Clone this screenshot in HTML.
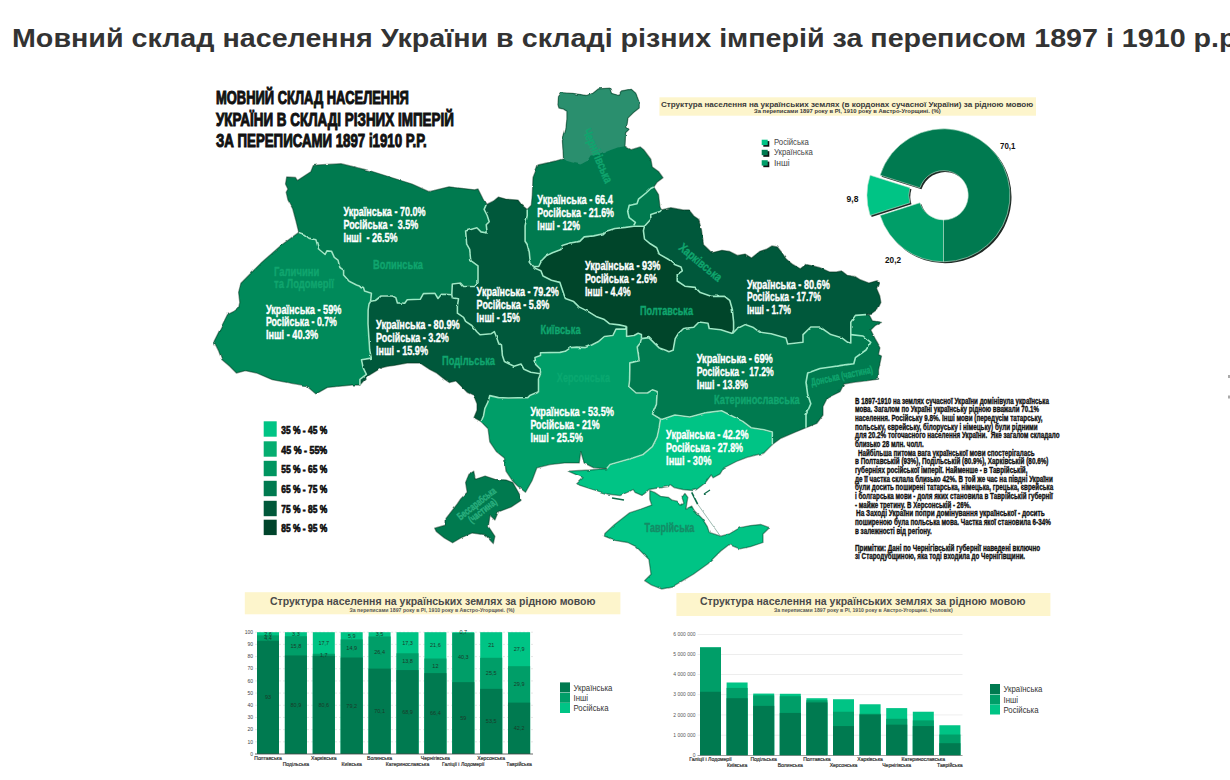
<!DOCTYPE html>
<html><head><meta charset="utf-8"><title>Мовний склад населення України</title>
<style>
html,body{margin:0;padding:0;background:#fff;}
body{width:1230px;height:780px;overflow:hidden;position:relative;font-family:"Liberation Sans",sans-serif;}
h1{position:absolute;left:13.4px;top:0;margin:0;font-size:25.5px;line-height:1;font-weight:700;color:#333;white-space:nowrap;transform-origin:0 0;transform:translate(-1px,25.92px) scale(1.1239,1);}
svg{position:absolute;left:0;top:0;}
svg text{font-family:"Liberation Sans",sans-serif;}
</style></head><body>
<h1>Мовний склад населення України в складі різних імперій за переписом 1897 і 1910 р.р.</h1>
<svg width="1230" height="780" viewBox="0 0 1230 780">
<defs><filter id="rough" x="-2%" y="-2%" width="104%" height="104%"><feTurbulence type="fractalNoise" baseFrequency="0.12" numOctaves="2" seed="3"/><feDisplacementMap in="SourceGraphic" scale="2.2" xChannelSelector="R" yChannelSelector="G"/></filter></defs>
<g id="map" stroke="#9de9c6" stroke-width="1.6" fill="none" stroke-linejoin="round" filter="url(#rough)">
<polygon points="298.8,232.4 303.9,234.2 308.5,237.9 315.9,239.8 318.6,249 325.1,254.5 326.9,250.9 331.6,251.3 334.3,257.3 338,260.1 339.9,267.5 343.6,270.2 343.6,274.9 349.1,281.3 356.5,285 363.5,287.5 364.5,291 371.4,293.2 370.6,301.3 369,304 368.1,310 368,324 369.7,350 371.3,358.1 361.5,359.8 363.2,367.9 366.4,374.4 359.9,379.3 359.9,385 351.8,385 327.4,387.4 316,393.9 306.3,385.8 290.2,383.1 272.3,379.7 256.6,373 245.4,370.7 236.4,373 229.7,366.3 221.8,359.5 218.5,350.6 214,341.6 218.5,332.6 222.9,323.7 227.4,314.7 234.1,311.3 238.6,308 239.8,302.4 238.6,292.3 240.9,283.3 249.8,274.3 261,263.1 281.2,245.2" fill="#008a5a" stroke="none"/>
<polygon points="298.8,232.4 296,221 292.7,208.8 288,200 286.2,192.3 287.9,189 285.5,184 286.7,177 295.4,177.4 297.4,180.5 310.8,171.8 313.3,165.6 318,164.9 341,163.7 370.7,171 412,184 429,191.7 449,186.8 474.6,189.8 478,189 483,199 486.2,204.7 484.1,209.4 487.2,215.5 489.2,221.7 486.2,224.7 487.2,233 481,231.9 476.9,227.8 465.6,230.9 466.7,244.2 469.7,249.4 470.8,260.6 478,265.8 478,282.4 474.9,286.5 463.6,286.5 460.5,283 452.3,284 451.8,294.7 446.2,294.2 441.3,294.4 438,298.5 434.8,293.2 423.4,293.6 420.2,299.3 407.2,299.7 404.7,303.3 397.4,302.9 395.8,297.6 392.5,296 381.1,296 375.4,300.5 370.6,301.3 371.4,293.2 364.5,291 363.5,287.5 356.5,285 349.1,281.3 343.6,274.9 343.6,270.2 339.9,267.5 338,260.1 334.3,257.3 331.6,251.3 326.9,250.9 325.1,254.5 318.6,249 315.9,239.8 308.5,237.9 303.9,234.2" fill="#007a50" stroke="none"/>
<polygon points="370.6,301.3 375.4,300.5 381.1,296 392.5,296 395.8,297.6 397.4,302.9 404.7,303.3 407.2,299.7 420.2,299.3 423.4,293.6 434.8,293.2 438,298.5 441.3,294.4 446.2,294.2 451.8,294.7 452.3,297.8 458.5,298.8 457.4,306 457.4,313.2 463.6,317.3 465.6,321.4 471.8,325.5 476.9,331.7 480,334.7 491.3,333.7 494.4,331.7 496.4,336.8 498.5,343 501.5,344.9 502.4,355.6 504.4,361.5 514,366.3 521,364 524,369.3 530.7,372.2 540.5,373.7 538.5,379 538.5,391.7 529.8,395.6 527.8,397.6 508.3,398 498.5,397.6 489.8,395.6 487.8,402.4 484.9,408.3 483.5,416 482,419.5 481,421.5 474,417.6 477,410.2 477,403.7 473.7,395.5 467.2,392.3 462.4,387.4 455.9,380.9 449.3,382.5 444.5,379.3 436.3,372.8 429.8,369.5 420,363 407.1,363 394.1,365.4 387.6,366.3 381,367.9 368,376 359.9,385 359.9,379.3 366.4,374.4 363.2,367.9 361.5,359.8 371.3,358.1 369.7,350 368,324 368.1,310 369,304" fill="#00583a" stroke="none"/>
<polygon points="486.2,204.7 493.3,201.2 498.5,197 505.6,199.1 518,200.1 522,205.3 527.2,209.4 527.2,215.5 525.1,225.8 525.1,241.2 527.1,244.3 529.2,251.7 530.3,262.3 533.5,266.5 535.6,268.6 540.9,270.7 543,276 551.4,280.3 559.9,282.4 562,288.7 565.3,298.5 573.7,301.6 579,306.9 587.5,311.1 596,316.4 604.4,319.6 609.7,323.8 619.2,324.9 626.6,326.5 625.5,329.1 616,329.1 612.9,335.5 604.4,336.5 598.1,341.8 591.7,345 585.4,347.6 576.9,347.1 570.6,347.6 565.3,351.3 560,352.4 540.5,352.7 540.5,355.6 535,357.6 535.6,364.4 540.5,369.3 540.5,373.7 530.7,372.2 524,369.3 521,364 514,366.3 504.4,361.5 502.4,355.6 501.5,344.9 498.5,343 496.4,336.8 494.4,331.7 491.3,333.7 480,334.7 476.9,331.7 471.8,325.5 465.6,321.4 463.6,317.3 457.4,313.2 457.4,306 458.5,298.8 452.3,297.8 451.8,294.7 452.3,284 460.5,283 463.6,286.5 474.9,286.5 478,282.4 478,265.8 470.8,260.6 469.7,249.4 466.7,244.2 465.6,230.9 476.9,227.8 481,231.9 487.2,233 486.2,224.7 489.2,221.7 487.2,215.5 484.1,209.4" fill="#00583a" stroke="none"/>
<polygon points="527.2,209.4 531.3,205.3 532.3,195 533,177.6 538,165 555.6,161 563.5,158.7 562.4,140.7 565.8,129.4 566.9,119.2 566.9,111.3 563.5,109.1 559,108 557.9,104.6 558.5,96.7 561.3,92.7 572.6,93.3 586.1,95.5 592.9,93.3 598.5,88.8 609.8,88.2 611.5,93.3 618.8,95.5 621.1,91 631.3,89.3 635.8,93.3 639.2,102.3 639.2,108 633.5,112.5 627.9,118.1 626.7,127.1 629,129.4 625.6,132.8 625,146.3 631.3,149.7 640.3,146.9 643.7,149.7 650.8,159.2 652.3,167 658.5,171.5 663,177.7 657,182.3 653.8,187 658.5,194.6 660,207 661.5,210 660,211.5 650.8,214.6 650.8,219.2 644.5,226.3 633.9,226.3 625.4,227.4 614.9,228.5 605.3,231.6 603.2,233.7 593.7,235.9 584.2,236.9 580,241.1 569.4,243.3 562,245.4 561,249.6 552.5,252.8 546.1,255.9 541.9,260.2 538.7,266.5 533.5,266.5 530.3,262.3 529.2,251.7 527.1,244.3 525.1,241.2 525.1,225.8 527.2,215.5" fill="#007a50" stroke="none"/>
<polygon points="533.5,266.5 538.7,266.5 541.9,260.2 546.1,255.9 552.5,252.8 561,249.6 562,245.4 569.4,243.3 580,241.1 584.2,236.9 593.7,235.9 603.2,233.7 605.3,231.6 614.9,228.5 625.4,227.4 633.9,226.3 644.5,226.3 643.4,230.6 644.5,239 650.3,243.8 656.7,247.7 659.2,254.1 668.2,259.2 674.6,264.4 681,266.9 682.3,270.8 677.2,274.6 677.2,281 684.9,286.2 695.1,287.4 700.3,292.6 711.8,296.4 724.6,296.4 729.7,300.3 732.3,309.2 733.6,322 733.6,329.7 732.3,333.6 720.8,329.7 709.2,328.5 708,323.3 699,322 693.8,327.2 683.6,328.5 678.4,333.3 675.2,338.6 673.1,350.3 668.9,351.8 665.7,350.3 659.4,348.1 655.1,343.9 648.8,337.6 641.4,338.6 641.4,334.4 638.2,333.3 634,335.5 626.6,336.5 626.6,326.5 619.2,324.9 609.7,323.8 604.4,319.6 596,316.4 587.5,311.1 579,306.9 573.7,301.6 565.3,298.5 562,288.7 559.9,282.4 551.4,280.3 543,276 540.9,270.7 535.6,268.6" fill="#00442b" stroke="none"/>
<polygon points="661.5,210 670.8,207.7 683,210 689,210 693.8,216 698.5,219.2 701.5,230 703.5,244.8 705.4,246.4 711.8,252.8 722,250.3 729.7,251.5 737.4,255.4 745.1,254.1 751.5,258 760,251.3 766.5,249.2 772,245.9 777.4,247 781.8,252.4 786.1,259 792.7,264.4 800.3,268.8 805.8,264.4 811.2,265.5 819.9,267.7 829.7,272 836.3,272 841.7,271 847.1,275.3 854.8,276.4 860.2,279.7 868.9,283 876.6,280.8 878.7,283 876.6,288.4 879.8,296 880.9,302.5 877.6,309.1 872.3,313 866,314.6 855.4,315.4 850.8,322.3 850.8,343 847.7,342.3 841.5,337.7 830.8,334.6 820,327 810.8,327 803,334.6 803,342.3 787.7,344 786,337.9 771.2,333.7 760,332.3 752.8,327.2 745.1,324.6 737.4,328.5 732.3,333.6 733.6,329.7 733.6,322 732.3,309.2 729.7,300.3 724.6,296.4 711.8,296.4 700.3,292.6 695.1,287.4 684.9,286.2 677.2,281 677.2,274.6 682.3,270.8 681,266.9 674.6,264.4 668.2,259.2 659.2,254.1 656.7,247.7 650.3,243.8 644.5,239 643.4,230.6 644.5,226.3 650.8,219.2 650.8,214.6 660,211.5" fill="#00583a" stroke="none"/>
<polygon points="641.4,338.6 648.8,337.6 655.1,343.9 659.4,348.1 665.7,350.3 668.9,351.8 673.1,350.3 675.2,338.6 678.4,333.3 683.6,328.5 693.8,327.2 699,322 708,323.3 709.2,328.5 720.8,329.7 732.3,333.6 737.4,328.5 745.1,324.6 752.8,327.2 760,332.3 771.2,333.7 786,337.9 787.7,344 803,342.3 803,334.6 810.8,327 820,327 830.8,334.6 841.5,337.7 847.7,342.3 850.8,343 850.8,322.3 855.4,315.4 866,314.6 869,314.6 872.3,320.8 881.5,322.3 875.4,325.4 870.8,330 875.4,339.2 880,347 878.5,354.6 881.5,356 878.5,370 878.5,379.2 866,380.8 853.8,382.3 844,384 840,391.7 827.3,398 823,406.5 823,415 816.7,423.5 806,427.7 795.6,432 780.8,438.3 772.3,444.6 772.3,432 763.9,429.8 751,427.7 742.7,421.4 730,415 721.5,410.8 704.6,412.9 689.8,417 675,415 662.3,419.2 660.5,419 652.4,414.1 656.4,404.4 657.2,391.4 652.4,389.8 647.5,393 636.1,393 628.8,386.5 629.6,380 629.8,370 629.8,362.9 639.3,360.8 637.2,347.1 640.3,342.9" fill="#007a50" stroke="none"/>
<polygon points="540.5,373.7 540.5,369.3 535.6,364.4 535,357.6 540.5,355.6 540.5,352.7 560,352.4 565.3,351.3 570.6,347.6 576.9,347.1 585.4,347.6 591.7,345 598.1,341.8 604.4,336.5 612.9,335.5 616,329.1 625.5,329.1 626.6,326.5 626.6,336.5 634,335.5 638.2,333.3 641.4,334.4 641.4,338.6 640.3,342.9 637.2,347.1 639.3,360.8 629.8,362.9 629.8,370 629.6,380 628.8,386.5 636.1,393 647.5,393 652.4,389.8 657.2,391.4 656.4,404.4 652.4,414.1 660.5,419 658.9,428.8 657.2,436.9 652.4,446.7 642.6,454.8 632.8,458 621.5,461.3 610.1,464.6 606.8,468.6 593.8,467.8 584.1,462.9 580.8,451.5 579.2,462.9 564.6,462.9 549.9,464.6 536.9,467.8 532,480.8 525.5,492.2 517.4,485.7 512.5,480.8 506,471.1 504.4,458 496.3,451.5 489.8,441.8 488.1,428.8 483.3,423.9 481,421.5 482,419.5 483.5,416 484.9,408.3 487.8,402.4 489.8,395.6 498.5,397.6 508.3,398 527.8,397.6 529.8,395.6 538.5,391.7 538.5,379" fill="#009e68" stroke="none"/>
<polygon points="660.5,419 662.3,419.2 675,415 689.8,417 704.6,412.9 721.5,410.8 730,415 742.7,421.4 751,427.7 763.9,429.8 772.3,432 772.3,444.6 763.9,453 747,457.3 736.3,461.5 723.7,468 720,473.9 713.2,477.8 711.2,474.9 705.4,482.7 696.6,489.5 692.7,490.5 682.9,489.5 674.1,487.6 670.2,484.6 668.3,486.6 654.6,488.5 648.8,489.5 645.9,492.4 642,495.4 635.1,492.4 633.2,489.5 629.3,491.5 620,495.6 607.3,494 591,489 576.4,484.2 582.9,477.7 568.2,471.2 590,470 606.8,468.6 610.1,464.6 621.5,461.3 632.8,458 642.6,454.8 652.4,446.7 657.2,436.9 658.9,428.8" fill="#00c485" stroke="none"/>
<polygon points="563.5,158.7 562.4,140.7 565.8,129.4 566.9,119.2 566.9,111.3 563.5,109.1 559,108 557.9,104.6 558.5,96.7 561.3,92.7 572.6,93.3 586.1,95.5 592.9,93.3 598.5,88.8 609.8,88.2 611.5,93.3 618.8,95.5 621.1,91 631.3,89.3 635.8,93.3 639.2,102.3 639.2,108 633.5,112.5 627.9,118.1 626.7,127.1 629,129.4 625.6,132.8 625,146.3 617.7,147.5 608.7,150.8 600.8,154.2 590.6,155.4 587.2,161 580.5,164.4 566.9,161" fill="#2a8f6e" stroke="none"/>
<polygon points="649.8,490.5 649.8,499.3 651.7,505.1 641,509 629.3,512.9 614.6,524.6 604.9,533.4 604.4,536.2 615,540.4 627.7,542.5 636.2,546.7 648.9,559.4 651,574.2 644.6,580.6 651,584.8 661.5,589 672,587 682.7,580.6 693.3,574.2 708,563.7 712.3,559.4 720.8,551 729.2,544.6 739.8,548.8 750.4,546.7 763,542.5 763,534 769.4,527.7 761,524.5 750.4,525.6 739.8,527.7 729.2,534 720.8,536.2 709.3,532.4 707.3,526.6 702.4,518.8 694.6,511 691.7,506.1 685.9,509 687.8,497.3 684.9,493.4 682,497.3 683.9,503.2 681,505.1 677.1,501.2 672.2,500.2 668.3,497.3 660.5,496.3 654.6,492.4" fill="#00c485" stroke="none"/>
<polygon points="468.9,474.4 473.7,471.2 475.4,479.3 485.1,476 494.9,479.3 506.3,480.1 512.8,482.6 519.3,494 521,500.5 511.2,507 498.2,511.9 494.9,520 490,515.1 488.4,526.5 494.9,536.3 493.3,543.6 485.1,534.7 472.1,533 460.7,538 452.6,542.8 444.4,538 436.3,531.4 434.7,528.2 446,525 446,518.4 457.5,503.7 460.7,498.9 467.2,492.3 465.6,482.6" fill="#007a50" stroke="none"/>
<g stroke="rgba(0,45,25,0.45)" stroke-width="1.3">
<polygon points="298.8,232.4 303.9,234.2 308.5,237.9 315.9,239.8 318.6,249 325.1,254.5 326.9,250.9 331.6,251.3 334.3,257.3 338,260.1 339.9,267.5 343.6,270.2 343.6,274.9 349.1,281.3 356.5,285 363.5,287.5 364.5,291 371.4,293.2 370.6,301.3 369,304 368.1,310 368,324 369.7,350 371.3,358.1 361.5,359.8 363.2,367.9 366.4,374.4 359.9,379.3 359.9,385 351.8,385 327.4,387.4 316,393.9 306.3,385.8 290.2,383.1 272.3,379.7 256.6,373 245.4,370.7 236.4,373 229.7,366.3 221.8,359.5 218.5,350.6 214,341.6 218.5,332.6 222.9,323.7 227.4,314.7 234.1,311.3 238.6,308 239.8,302.4 238.6,292.3 240.9,283.3 249.8,274.3 261,263.1 281.2,245.2"/>
<polygon points="298.8,232.4 296,221 292.7,208.8 288,200 286.2,192.3 287.9,189 285.5,184 286.7,177 295.4,177.4 297.4,180.5 310.8,171.8 313.3,165.6 318,164.9 341,163.7 370.7,171 412,184 429,191.7 449,186.8 474.6,189.8 478,189 483,199 486.2,204.7 484.1,209.4 487.2,215.5 489.2,221.7 486.2,224.7 487.2,233 481,231.9 476.9,227.8 465.6,230.9 466.7,244.2 469.7,249.4 470.8,260.6 478,265.8 478,282.4 474.9,286.5 463.6,286.5 460.5,283 452.3,284 451.8,294.7 446.2,294.2 441.3,294.4 438,298.5 434.8,293.2 423.4,293.6 420.2,299.3 407.2,299.7 404.7,303.3 397.4,302.9 395.8,297.6 392.5,296 381.1,296 375.4,300.5 370.6,301.3 371.4,293.2 364.5,291 363.5,287.5 356.5,285 349.1,281.3 343.6,274.9 343.6,270.2 339.9,267.5 338,260.1 334.3,257.3 331.6,251.3 326.9,250.9 325.1,254.5 318.6,249 315.9,239.8 308.5,237.9 303.9,234.2"/>
<polygon points="370.6,301.3 375.4,300.5 381.1,296 392.5,296 395.8,297.6 397.4,302.9 404.7,303.3 407.2,299.7 420.2,299.3 423.4,293.6 434.8,293.2 438,298.5 441.3,294.4 446.2,294.2 451.8,294.7 452.3,297.8 458.5,298.8 457.4,306 457.4,313.2 463.6,317.3 465.6,321.4 471.8,325.5 476.9,331.7 480,334.7 491.3,333.7 494.4,331.7 496.4,336.8 498.5,343 501.5,344.9 502.4,355.6 504.4,361.5 514,366.3 521,364 524,369.3 530.7,372.2 540.5,373.7 538.5,379 538.5,391.7 529.8,395.6 527.8,397.6 508.3,398 498.5,397.6 489.8,395.6 487.8,402.4 484.9,408.3 483.5,416 482,419.5 481,421.5 474,417.6 477,410.2 477,403.7 473.7,395.5 467.2,392.3 462.4,387.4 455.9,380.9 449.3,382.5 444.5,379.3 436.3,372.8 429.8,369.5 420,363 407.1,363 394.1,365.4 387.6,366.3 381,367.9 368,376 359.9,385 359.9,379.3 366.4,374.4 363.2,367.9 361.5,359.8 371.3,358.1 369.7,350 368,324 368.1,310 369,304"/>
<polygon points="486.2,204.7 493.3,201.2 498.5,197 505.6,199.1 518,200.1 522,205.3 527.2,209.4 527.2,215.5 525.1,225.8 525.1,241.2 527.1,244.3 529.2,251.7 530.3,262.3 533.5,266.5 535.6,268.6 540.9,270.7 543,276 551.4,280.3 559.9,282.4 562,288.7 565.3,298.5 573.7,301.6 579,306.9 587.5,311.1 596,316.4 604.4,319.6 609.7,323.8 619.2,324.9 626.6,326.5 625.5,329.1 616,329.1 612.9,335.5 604.4,336.5 598.1,341.8 591.7,345 585.4,347.6 576.9,347.1 570.6,347.6 565.3,351.3 560,352.4 540.5,352.7 540.5,355.6 535,357.6 535.6,364.4 540.5,369.3 540.5,373.7 530.7,372.2 524,369.3 521,364 514,366.3 504.4,361.5 502.4,355.6 501.5,344.9 498.5,343 496.4,336.8 494.4,331.7 491.3,333.7 480,334.7 476.9,331.7 471.8,325.5 465.6,321.4 463.6,317.3 457.4,313.2 457.4,306 458.5,298.8 452.3,297.8 451.8,294.7 452.3,284 460.5,283 463.6,286.5 474.9,286.5 478,282.4 478,265.8 470.8,260.6 469.7,249.4 466.7,244.2 465.6,230.9 476.9,227.8 481,231.9 487.2,233 486.2,224.7 489.2,221.7 487.2,215.5 484.1,209.4"/>
<polygon points="527.2,209.4 531.3,205.3 532.3,195 533,177.6 538,165 555.6,161 563.5,158.7 562.4,140.7 565.8,129.4 566.9,119.2 566.9,111.3 563.5,109.1 559,108 557.9,104.6 558.5,96.7 561.3,92.7 572.6,93.3 586.1,95.5 592.9,93.3 598.5,88.8 609.8,88.2 611.5,93.3 618.8,95.5 621.1,91 631.3,89.3 635.8,93.3 639.2,102.3 639.2,108 633.5,112.5 627.9,118.1 626.7,127.1 629,129.4 625.6,132.8 625,146.3 631.3,149.7 640.3,146.9 643.7,149.7 650.8,159.2 652.3,167 658.5,171.5 663,177.7 657,182.3 653.8,187 658.5,194.6 660,207 661.5,210 660,211.5 650.8,214.6 650.8,219.2 644.5,226.3 633.9,226.3 625.4,227.4 614.9,228.5 605.3,231.6 603.2,233.7 593.7,235.9 584.2,236.9 580,241.1 569.4,243.3 562,245.4 561,249.6 552.5,252.8 546.1,255.9 541.9,260.2 538.7,266.5 533.5,266.5 530.3,262.3 529.2,251.7 527.1,244.3 525.1,241.2 525.1,225.8 527.2,215.5"/>
<polygon points="533.5,266.5 538.7,266.5 541.9,260.2 546.1,255.9 552.5,252.8 561,249.6 562,245.4 569.4,243.3 580,241.1 584.2,236.9 593.7,235.9 603.2,233.7 605.3,231.6 614.9,228.5 625.4,227.4 633.9,226.3 644.5,226.3 643.4,230.6 644.5,239 650.3,243.8 656.7,247.7 659.2,254.1 668.2,259.2 674.6,264.4 681,266.9 682.3,270.8 677.2,274.6 677.2,281 684.9,286.2 695.1,287.4 700.3,292.6 711.8,296.4 724.6,296.4 729.7,300.3 732.3,309.2 733.6,322 733.6,329.7 732.3,333.6 720.8,329.7 709.2,328.5 708,323.3 699,322 693.8,327.2 683.6,328.5 678.4,333.3 675.2,338.6 673.1,350.3 668.9,351.8 665.7,350.3 659.4,348.1 655.1,343.9 648.8,337.6 641.4,338.6 641.4,334.4 638.2,333.3 634,335.5 626.6,336.5 626.6,326.5 619.2,324.9 609.7,323.8 604.4,319.6 596,316.4 587.5,311.1 579,306.9 573.7,301.6 565.3,298.5 562,288.7 559.9,282.4 551.4,280.3 543,276 540.9,270.7 535.6,268.6"/>
<polygon points="661.5,210 670.8,207.7 683,210 689,210 693.8,216 698.5,219.2 701.5,230 703.5,244.8 705.4,246.4 711.8,252.8 722,250.3 729.7,251.5 737.4,255.4 745.1,254.1 751.5,258 760,251.3 766.5,249.2 772,245.9 777.4,247 781.8,252.4 786.1,259 792.7,264.4 800.3,268.8 805.8,264.4 811.2,265.5 819.9,267.7 829.7,272 836.3,272 841.7,271 847.1,275.3 854.8,276.4 860.2,279.7 868.9,283 876.6,280.8 878.7,283 876.6,288.4 879.8,296 880.9,302.5 877.6,309.1 872.3,313 866,314.6 855.4,315.4 850.8,322.3 850.8,343 847.7,342.3 841.5,337.7 830.8,334.6 820,327 810.8,327 803,334.6 803,342.3 787.7,344 786,337.9 771.2,333.7 760,332.3 752.8,327.2 745.1,324.6 737.4,328.5 732.3,333.6 733.6,329.7 733.6,322 732.3,309.2 729.7,300.3 724.6,296.4 711.8,296.4 700.3,292.6 695.1,287.4 684.9,286.2 677.2,281 677.2,274.6 682.3,270.8 681,266.9 674.6,264.4 668.2,259.2 659.2,254.1 656.7,247.7 650.3,243.8 644.5,239 643.4,230.6 644.5,226.3 650.8,219.2 650.8,214.6 660,211.5"/>
<polygon points="641.4,338.6 648.8,337.6 655.1,343.9 659.4,348.1 665.7,350.3 668.9,351.8 673.1,350.3 675.2,338.6 678.4,333.3 683.6,328.5 693.8,327.2 699,322 708,323.3 709.2,328.5 720.8,329.7 732.3,333.6 737.4,328.5 745.1,324.6 752.8,327.2 760,332.3 771.2,333.7 786,337.9 787.7,344 803,342.3 803,334.6 810.8,327 820,327 830.8,334.6 841.5,337.7 847.7,342.3 850.8,343 850.8,322.3 855.4,315.4 866,314.6 869,314.6 872.3,320.8 881.5,322.3 875.4,325.4 870.8,330 875.4,339.2 880,347 878.5,354.6 881.5,356 878.5,370 878.5,379.2 866,380.8 853.8,382.3 844,384 840,391.7 827.3,398 823,406.5 823,415 816.7,423.5 806,427.7 795.6,432 780.8,438.3 772.3,444.6 772.3,432 763.9,429.8 751,427.7 742.7,421.4 730,415 721.5,410.8 704.6,412.9 689.8,417 675,415 662.3,419.2 660.5,419 652.4,414.1 656.4,404.4 657.2,391.4 652.4,389.8 647.5,393 636.1,393 628.8,386.5 629.6,380 629.8,370 629.8,362.9 639.3,360.8 637.2,347.1 640.3,342.9"/>
<polygon points="540.5,373.7 540.5,369.3 535.6,364.4 535,357.6 540.5,355.6 540.5,352.7 560,352.4 565.3,351.3 570.6,347.6 576.9,347.1 585.4,347.6 591.7,345 598.1,341.8 604.4,336.5 612.9,335.5 616,329.1 625.5,329.1 626.6,326.5 626.6,336.5 634,335.5 638.2,333.3 641.4,334.4 641.4,338.6 640.3,342.9 637.2,347.1 639.3,360.8 629.8,362.9 629.8,370 629.6,380 628.8,386.5 636.1,393 647.5,393 652.4,389.8 657.2,391.4 656.4,404.4 652.4,414.1 660.5,419 658.9,428.8 657.2,436.9 652.4,446.7 642.6,454.8 632.8,458 621.5,461.3 610.1,464.6 606.8,468.6 593.8,467.8 584.1,462.9 580.8,451.5 579.2,462.9 564.6,462.9 549.9,464.6 536.9,467.8 532,480.8 525.5,492.2 517.4,485.7 512.5,480.8 506,471.1 504.4,458 496.3,451.5 489.8,441.8 488.1,428.8 483.3,423.9 481,421.5 482,419.5 483.5,416 484.9,408.3 487.8,402.4 489.8,395.6 498.5,397.6 508.3,398 527.8,397.6 529.8,395.6 538.5,391.7 538.5,379"/>
<polygon points="660.5,419 662.3,419.2 675,415 689.8,417 704.6,412.9 721.5,410.8 730,415 742.7,421.4 751,427.7 763.9,429.8 772.3,432 772.3,444.6 763.9,453 747,457.3 736.3,461.5 723.7,468 720,473.9 713.2,477.8 711.2,474.9 705.4,482.7 696.6,489.5 692.7,490.5 682.9,489.5 674.1,487.6 670.2,484.6 668.3,486.6 654.6,488.5 648.8,489.5 645.9,492.4 642,495.4 635.1,492.4 633.2,489.5 629.3,491.5 620,495.6 607.3,494 591,489 576.4,484.2 582.9,477.7 568.2,471.2 590,470 606.8,468.6 610.1,464.6 621.5,461.3 632.8,458 642.6,454.8 652.4,446.7 657.2,436.9 658.9,428.8"/>
<polygon points="649.8,490.5 649.8,499.3 651.7,505.1 641,509 629.3,512.9 614.6,524.6 604.9,533.4 604.4,536.2 615,540.4 627.7,542.5 636.2,546.7 648.9,559.4 651,574.2 644.6,580.6 651,584.8 661.5,589 672,587 682.7,580.6 693.3,574.2 708,563.7 712.3,559.4 720.8,551 729.2,544.6 739.8,548.8 750.4,546.7 763,542.5 763,534 769.4,527.7 761,524.5 750.4,525.6 739.8,527.7 729.2,534 720.8,536.2 709.3,532.4 707.3,526.6 702.4,518.8 694.6,511 691.7,506.1 685.9,509 687.8,497.3 684.9,493.4 682,497.3 683.9,503.2 681,505.1 677.1,501.2 672.2,500.2 668.3,497.3 660.5,496.3 654.6,492.4"/>
<polygon points="468.9,474.4 473.7,471.2 475.4,479.3 485.1,476 494.9,479.3 506.3,480.1 512.8,482.6 519.3,494 521,500.5 511.2,507 498.2,511.9 494.9,520 490,515.1 488.4,526.5 494.9,536.3 493.3,543.6 485.1,534.7 472.1,533 460.7,538 452.6,542.8 444.4,538 436.3,531.4 434.7,528.2 446,525 446,518.4 457.5,503.7 460.7,498.9 467.2,492.3 465.6,482.6"/>
</g>
<polyline points="298.8,232.4 303.9,234.2 308.5,237.9 315.9,239.8 318.6,249 325.1,254.5 326.9,250.9 331.6,251.3 334.3,257.3 338,260.1 339.9,267.5 343.6,270.2 343.6,274.9 349.1,281.3 356.5,285 363.5,287.5 364.5,291 371.4,293.2 370.6,301.3"/>
<polyline points="370.6,301.3 369,304 368.1,310 368,324 369.7,350 371.3,358.1 361.5,359.8 363.2,367.9 366.4,374.4 359.9,379.3 359.9,385"/>
<polyline points="370.6,301.3 375.4,300.5 381.1,296 392.5,296 395.8,297.6 397.4,302.9 404.7,303.3 407.2,299.7 420.2,299.3 423.4,293.6 434.8,293.2 438,298.5 441.3,294.4 446.2,294.2 451.8,294.7"/>
<polyline points="486.2,204.7 484.1,209.4 487.2,215.5 489.2,221.7 486.2,224.7 487.2,233 481,231.9 476.9,227.8 465.6,230.9 466.7,244.2 469.7,249.4 470.8,260.6 478,265.8 478,282.4 474.9,286.5 463.6,286.5 460.5,283 452.3,284 451.8,294.7"/>
<polyline points="451.8,294.7 452.3,297.8 458.5,298.8 457.4,306 457.4,313.2 463.6,317.3 465.6,321.4 471.8,325.5 476.9,331.7 480,334.7 491.3,333.7 494.4,331.7 496.4,336.8 498.5,343 501.5,344.9 502.4,355.6 504.4,361.5 514,366.3 521,364 524,369.3 530.7,372.2 540.5,373.7"/>
<polyline points="540.5,373.7 538.5,379 538.5,391.7 529.8,395.6 527.8,397.6 508.3,398 498.5,397.6 489.8,395.6 487.8,402.4 484.9,408.3 483.5,416 482,419.5 481,421.5"/>
<polyline points="540.5,373.7 540.5,369.3 535.6,364.4 535,357.6 540.5,355.6 540.5,352.7 560,352.4 565.3,351.3 570.6,347.6 576.9,347.1 585.4,347.6 591.7,345 598.1,341.8 604.4,336.5 612.9,335.5 616,329.1 625.5,329.1 626.6,326.5"/>
<polyline points="533.5,266.5 535.6,268.6 540.9,270.7 543,276 551.4,280.3 559.9,282.4 562,288.7 565.3,298.5 573.7,301.6 579,306.9 587.5,311.1 596,316.4 604.4,319.6 609.7,323.8 619.2,324.9 626.6,326.5"/>
<polyline points="527.2,209.4 527.2,215.5 525.1,225.8 525.1,241.2 527.1,244.3 529.2,251.7 530.3,262.3 533.5,266.5"/>
<polyline points="533.5,266.5 538.7,266.5 541.9,260.2 546.1,255.9 552.5,252.8 561,249.6 562,245.4 569.4,243.3 580,241.1 584.2,236.9 593.7,235.9 603.2,233.7 605.3,231.6 614.9,228.5 625.4,227.4 633.9,226.3 644.5,226.3"/>
<polyline points="661.5,210 660,211.5 650.8,214.6 650.8,219.2 644.5,226.3"/>
<polyline points="644.5,226.3 643.4,230.6 644.5,239 650.3,243.8 656.7,247.7 659.2,254.1 668.2,259.2 674.6,264.4 681,266.9 682.3,270.8 677.2,274.6 677.2,281 684.9,286.2 695.1,287.4 700.3,292.6 711.8,296.4 724.6,296.4 729.7,300.3 732.3,309.2 733.6,322 733.6,329.7 732.3,333.6"/>
<polyline points="641.4,338.6 648.8,337.6 655.1,343.9 659.4,348.1 665.7,350.3 668.9,351.8 673.1,350.3 675.2,338.6 678.4,333.3 683.6,328.5 693.8,327.2 699,322 708,323.3 709.2,328.5 720.8,329.7 732.3,333.6"/>
<polyline points="732.3,333.6 737.4,328.5 745.1,324.6 752.8,327.2 760,332.3 771.2,333.7 786,337.9 787.7,344 803,342.3 803,334.6 810.8,327 820,327 830.8,334.6 841.5,337.7 847.7,342.3 850.8,343 850.8,322.3 855.4,315.4 866,314.6"/>
<polyline points="641.4,338.6 640.3,342.9 637.2,347.1 639.3,360.8 629.8,362.9 629.8,370 629.6,380 628.8,386.5 636.1,393 647.5,393 652.4,389.8 657.2,391.4 656.4,404.4 652.4,414.1 660.5,419"/>
<polyline points="660.5,419 662.3,419.2 675,415 689.8,417 704.6,412.9 721.5,410.8 730,415 742.7,421.4 751,427.7 763.9,429.8 772.3,432 772.3,444.6"/>
<polyline points="660.5,419 658.9,428.8 657.2,436.9 652.4,446.7 642.6,454.8 632.8,458 621.5,461.3 610.1,464.6 606.8,468.6"/>
<polyline points="626.6,326.5 626.6,336.5 634,335.5 638.2,333.3 641.4,334.4 641.4,338.6"/>
<polyline points="850.8,334.6 863,336 870.8,342.3 866,350 855.4,357.7 853.8,363.8 841.5,365.4 830.8,367 820,368.5 807.7,373 806,382.3 807.7,394.6 810.8,403.8 806,415 806,427.7"/>
<polyline points="653.8,187 650.8,188.5 646,193 638.5,199.2 637,203.8 629.2,205.4 627.7,211.5 629.2,217.7 635.4,222.3 633.8,225.4"/>
<polyline points="691.7,492.4 697.6,504.1" stroke="#0a6a48" stroke-width="1.6"/>
<polyline points="697.6,504.1 721,537" stroke="#5a8a78" stroke-width="0.6"/>
<polyline points="612,498 624,500" stroke="#0a6a48" stroke-width="1.4"/>
<polyline points="704,494 710,490" stroke="#0a6a48" stroke-width="1.2"/>
</g>
<text transform="translate(373.00,268.77) scale(0.7422,1)" font-size="12.5" font-weight="700" fill="#10a56e" stroke="#10a56e" stroke-width="0.35">Волинська</text>
<text transform="translate(274.00,275.57) scale(0.7625,1)" font-size="12.5" font-weight="700" fill="#10a56e" stroke="#10a56e" stroke-width="0.35">Галичини</text>
<text transform="translate(274.00,287.77) scale(0.7593,1)" font-size="12.5" font-weight="700" fill="#10a56e" stroke="#10a56e" stroke-width="0.35">та Лодомерії</text>
<text transform="translate(442.00,365.38) scale(0.7430,1)" font-size="12.5" font-weight="700" fill="#10a56e" stroke="#10a56e" stroke-width="0.35">Подільська</text>
<text transform="translate(540.50,333.88) scale(0.7438,1)" font-size="12.5" font-weight="700" fill="#10a56e" stroke="#10a56e" stroke-width="0.35">Київська</text>
<text transform="translate(640.00,315.07) scale(0.7306,1)" font-size="12.5" font-weight="700" fill="#10a56e" stroke="#10a56e" stroke-width="0.35">Полтавська</text>
<text transform="translate(714.00,403.57) scale(0.7447,1)" font-size="12.5" font-weight="700" fill="#10a56e" stroke="#10a56e" stroke-width="0.35">Катеринославська</text>
<text transform="translate(556.80,382.48) scale(0.7297,1)" font-size="12.5" font-weight="700" fill="#0aa870" stroke="#0aa870" stroke-width="0.35">Херсонська</text>
<text transform="translate(644.60,532.17) scale(0.7245,1)" font-size="12.5" font-weight="700" fill="#148c66" stroke="#148c66" stroke-width="0.35">Таврійська</text>
<g transform="translate(700.0,263.0) rotate(40)"><text transform="translate(-26.00,3.38) scale(0.7661,1)" font-size="12.5" font-weight="700" fill="#10a56e" stroke="#10a56e" stroke-width="0.35">Харківська</text></g>
<g transform="translate(597.0,156.0) rotate(67)"><text transform="translate(-29.00,3.38) scale(0.7408,1)" font-size="12.5" font-weight="700" fill="#10a56e" stroke="#10a56e" stroke-width="0.35">Чернігівська</text></g>
<g transform="translate(842.0,376.5) rotate(-12)"><text transform="translate(-31.50,2.83) scale(0.6616,1)" font-size="10.5" font-weight="700" fill="#10a56e" stroke="#10a56e" stroke-width="0.35">Донська (частина)</text></g>
<g transform="translate(477.0,504.0) rotate(-38)"><text transform="translate(-23.00,2.83) scale(0.6311,1)" font-size="10.5" font-weight="700" fill="#2bb07f" stroke="#2bb07f" stroke-width="0.35">Бессарабська</text></g>
<g transform="translate(483.0,511.0) rotate(-38)"><text transform="translate(-16.50,2.83) scale(0.6797,1)" font-size="10.5" font-weight="700" fill="#2bb07f" stroke="#2bb07f" stroke-width="0.35">(частина)</text></g>
<text transform="translate(343.40,216.20) scale(0.7236,1)" font-size="12.5" font-weight="700" fill="#fff" stroke="#fff" stroke-width="0.35">Українська - 70.0%</text>
<text transform="translate(343.40,229.00) scale(0.7166,1)" font-size="12.5" font-weight="700" fill="#fff" stroke="#fff" stroke-width="0.35">Російська - &#160;3.5%</text>
<text transform="translate(343.40,241.80) scale(0.7233,1)" font-size="12.5" font-weight="700" fill="#fff" stroke="#fff" stroke-width="0.35">Інші &#160;- 26.5%</text>
<text transform="translate(265.90,313.50) scale(0.7327,1)" font-size="12.5" font-weight="700" fill="#fff" stroke="#fff" stroke-width="0.35">Українська - 59%</text>
<text transform="translate(265.90,326.30) scale(0.7036,1)" font-size="12.5" font-weight="700" fill="#fff" stroke="#fff" stroke-width="0.35">Російська - 0.7%</text>
<text transform="translate(265.90,339.10) scale(0.7332,1)" font-size="12.5" font-weight="700" fill="#fff" stroke="#fff" stroke-width="0.35">Інші - 40.3%</text>
<text transform="translate(376.00,329.30) scale(0.7376,1)" font-size="12.5" font-weight="700" fill="#fff" stroke="#fff" stroke-width="0.35">Українська - 80.9%</text>
<text transform="translate(376.00,341.90) scale(0.7204,1)" font-size="12.5" font-weight="700" fill="#fff" stroke="#fff" stroke-width="0.35">Російська - 3.2%</text>
<text transform="translate(376.00,354.50) scale(0.7276,1)" font-size="12.5" font-weight="700" fill="#fff" stroke="#fff" stroke-width="0.35">Інші - 15.9%</text>
<text transform="translate(476.60,296.40) scale(0.7236,1)" font-size="12.5" font-weight="700" fill="#fff" stroke="#fff" stroke-width="0.35">Українська - 79.2%</text>
<text transform="translate(476.60,309.20) scale(0.7214,1)" font-size="12.5" font-weight="700" fill="#fff" stroke="#fff" stroke-width="0.35">Російська - 5.8%</text>
<text transform="translate(476.60,322.00) scale(0.7077,1)" font-size="12.5" font-weight="700" fill="#fff" stroke="#fff" stroke-width="0.35">Інші - 15%</text>
<text transform="translate(537.30,204.40) scale(0.7376,1)" font-size="12.5" font-weight="700" fill="#fff" stroke="#fff" stroke-width="0.35">Українська - 66.4</text>
<text transform="translate(537.30,217.00) scale(0.7111,1)" font-size="12.5" font-weight="700" fill="#fff" stroke="#fff" stroke-width="0.35">Російська - 21.6%</text>
<text transform="translate(537.30,229.60) scale(0.6995,1)" font-size="12.5" font-weight="700" fill="#fff" stroke="#fff" stroke-width="0.35">Інші - 12%</text>
<text transform="translate(584.90,270.00) scale(0.7327,1)" font-size="12.5" font-weight="700" fill="#fff" stroke="#fff" stroke-width="0.35">Українська - 93%</text>
<text transform="translate(584.90,282.95) scale(0.7135,1)" font-size="12.5" font-weight="700" fill="#fff" stroke="#fff" stroke-width="0.35">Російська - 2.6%</text>
<text transform="translate(584.90,295.90) scale(0.7099,1)" font-size="12.5" font-weight="700" fill="#fff" stroke="#fff" stroke-width="0.35">Інші - 4.4%</text>
<text transform="translate(746.90,288.80) scale(0.7297,1)" font-size="12.5" font-weight="700" fill="#fff" stroke="#fff" stroke-width="0.35">Українська - 80.6%</text>
<text transform="translate(746.90,301.20) scale(0.6852,1)" font-size="12.5" font-weight="700" fill="#fff" stroke="#fff" stroke-width="0.35">Російська - 17.7%</text>
<text transform="translate(746.90,313.60) scale(0.6805,1)" font-size="12.5" font-weight="700" fill="#fff" stroke="#fff" stroke-width="0.35">Інші - 1.7%</text>
<text transform="translate(696.70,363.20) scale(0.7385,1)" font-size="12.5" font-weight="700" fill="#fff" stroke="#fff" stroke-width="0.35">Українська - 69%</text>
<text transform="translate(696.70,375.95) scale(0.6907,1)" font-size="12.5" font-weight="700" fill="#fff" stroke="#fff" stroke-width="0.35">Російська - &#160;17.2%</text>
<text transform="translate(696.70,388.70) scale(0.7164,1)" font-size="12.5" font-weight="700" fill="#fff" stroke="#fff" stroke-width="0.35">Інші - 13.8%</text>
<text transform="translate(530.40,416.10) scale(0.7359,1)" font-size="12.5" font-weight="700" fill="#fff" stroke="#fff" stroke-width="0.35">Українська - 53.5%</text>
<text transform="translate(530.40,428.80) scale(0.7112,1)" font-size="12.5" font-weight="700" fill="#fff" stroke="#fff" stroke-width="0.35">Російська - 21%</text>
<text transform="translate(530.40,441.50) scale(0.7346,1)" font-size="12.5" font-weight="700" fill="#fff" stroke="#fff" stroke-width="0.35">Інші - 25.5%</text>
<text transform="translate(666.10,439.40) scale(0.7262,1)" font-size="12.5" font-weight="700" fill="#fff" stroke="#fff" stroke-width="0.35">Українська - 42.2%</text>
<text transform="translate(666.10,452.30) scale(0.7129,1)" font-size="12.5" font-weight="700" fill="#fff" stroke="#fff" stroke-width="0.35">Російська - 27.8%</text>
<text transform="translate(666.10,465.20) scale(0.7421,1)" font-size="12.5" font-weight="700" fill="#fff" stroke="#fff" stroke-width="0.35">Інші - 30%</text>
<text transform="translate(216.00,104.00) scale(0.7199,1)" font-size="18" font-weight="700" fill="#111" stroke="#111" stroke-width="1.0">МОВНИЙ СКЛАД НАСЕЛЕННЯ</text>
<text transform="translate(216.00,126.00) scale(0.7467,1)" font-size="18" font-weight="700" fill="#111" stroke="#111" stroke-width="1.0">УКРАЇНИ В СКЛАДІ РІЗНИХ ІМПЕРІЙ</text>
<text transform="translate(216.00,147.00) scale(0.7370,1)" font-size="18" font-weight="700" fill="#111" stroke="#111" stroke-width="1.0">ЗА ПЕРЕПИСАМИ 1897 і1910 Р.Р.</text>
<rect x="263.7" y="421.3" width="13" height="15.4" fill="#00c485"/>
<text transform="translate(281.30,433.70) scale(0.7677,1)" font-size="11" font-weight="700" fill="#111" stroke="#111" stroke-width="0.7">35 % - 45 %</text>
<rect x="263.7" y="441.3" width="13" height="15.4" fill="#05ad70"/>
<text transform="translate(281.30,453.70) scale(0.8089,1)" font-size="11" font-weight="700" fill="#111" stroke="#111" stroke-width="0.7">45 % - 55%</text>
<rect x="263.7" y="460.8" width="13" height="15.4" fill="#009560"/>
<text transform="translate(281.30,473.20) scale(0.7677,1)" font-size="11" font-weight="700" fill="#111" stroke="#111" stroke-width="0.7">55 % - 65 %</text>
<rect x="263.7" y="480.8" width="13" height="15.4" fill="#007a50"/>
<text transform="translate(281.30,493.20) scale(0.7677,1)" font-size="11" font-weight="700" fill="#111" stroke="#111" stroke-width="0.7">65 % - 75 %</text>
<rect x="263.7" y="500.8" width="13" height="15.4" fill="#00583a"/>
<text transform="translate(281.30,513.20) scale(0.7677,1)" font-size="11" font-weight="700" fill="#111" stroke="#111" stroke-width="0.7">75 % - 85 %</text>
<rect x="263.7" y="519.7" width="13" height="15.4" fill="#00442b"/>
<text transform="translate(281.30,532.10) scale(0.7677,1)" font-size="11" font-weight="700" fill="#111" stroke="#111" stroke-width="0.7">85 % - 95 %</text>
<path d="M881.61,176.69 A66.5,66.5 0 1 1 945.00,263.30 L945.00,221.50 A24.7,24.7 0 1 0 921.46,189.33 Z" fill="#1d2a24"/>
<path d="M945.00,263.30 A66.5,66.5 0 0 1 881.61,216.91 L921.46,204.27 A24.7,24.7 0 0 0 945.00,221.50 Z" fill="#1d2a24"/>
<path d="M871.61,216.91 A66.5,66.5 0 0 1 871.61,176.69 L911.46,189.33 A24.7,24.7 0 0 0 911.46,204.27 Z" fill="#1d2a24"/>
<path d="M880.11,175.19 A66.5,66.5 0 1 1 943.50,261.80 L943.50,220.00 A24.7,24.7 0 1 0 919.96,187.83 Z" fill="#007a50" stroke="#bfe3cf" stroke-width="0.6"/>
<path d="M943.50,261.80 A66.5,66.5 0 0 1 880.11,215.41 L919.96,202.77 A24.7,24.7 0 0 0 943.50,220.00 Z" fill="#009e68" stroke="#bfe3cf" stroke-width="0.6"/>
<path d="M870.11,215.41 A66.5,66.5 0 0 1 870.11,175.19 L909.96,187.83 A24.7,24.7 0 0 0 909.96,202.77 Z" fill="#00c485" stroke="#bfe3cf" stroke-width="0.6"/>
<rect x="659.4" y="97.3" width="376.6" height="18.4" fill="#fdf5cc"/>
<text transform="translate(661.00,106.70) scale(1.0123,1)" font-size="8" font-weight="700" fill="#3a3a3a" >Структура населення на українських землях (в кордонах сучасної України) за рідною мовою</text>
<text transform="translate(754.00,112.60) scale(1.1330,1)" font-size="5.2" font-weight="700" fill="#3a3a3a" >За переписами 1897 року в РІ, 1910 року в Австро-Угорщині. (%)</text>
<rect x="763.3" y="141.1" width="6" height="5.6" fill="#111"/>
<rect x="761.7" y="139.7" width="6" height="5.4" fill="#00c485"/>
<text transform="translate(774.00,145.10) scale(0.9131,1)" font-size="8.5" font-weight="400" fill="#444" >Російська</text>
<rect x="763.3" y="151.20000000000002" width="6" height="5.6" fill="#111"/>
<rect x="761.7" y="149.8" width="6" height="5.4" fill="#007a50"/>
<text transform="translate(774.00,155.20) scale(0.9117,1)" font-size="8.5" font-weight="400" fill="#444" >Українська</text>
<rect x="763.3" y="161.6" width="6" height="5.6" fill="#111"/>
<rect x="761.7" y="160.2" width="6" height="5.4" fill="#009e68"/>
<text transform="translate(774.00,165.60) scale(1.0000,1)" font-size="8.5" font-weight="400" fill="#444" >Інші</text>
<text transform="translate(1000.00,149.20) scale(0.9309,1)" font-size="8.5" font-weight="700" fill="#111" >70,1</text>
<text transform="translate(846.50,201.50) scale(1.0071,1)" font-size="8.5" font-weight="700" fill="#111" >9,8</text>
<text transform="translate(885.00,263.20) scale(0.9671,1)" font-size="8.5" font-weight="700" fill="#111" >20,2</text>
<text transform="translate(855.00,403.60) scale(0.7278,1)" font-size="8.6" font-weight="700" fill="#111" stroke="#111" stroke-width="0.35">В 1897-1910 на землях сучасної України домінівула українська</text>
<text transform="translate(855.00,412.26) scale(0.7262,1)" font-size="8.6" font-weight="700" fill="#111" stroke="#111" stroke-width="0.35">мова. Загалом по Україні українську рідною вважали 70.1%</text>
<text transform="translate(855.00,420.92) scale(0.7336,1)" font-size="8.6" font-weight="700" fill="#111" stroke="#111" stroke-width="0.35">населення. Російську 9.8%. Інші мови (передусім татарську,</text>
<text transform="translate(855.00,429.58) scale(0.7345,1)" font-size="8.6" font-weight="700" fill="#111" stroke="#111" stroke-width="0.35">польську, єврейську, білоруську і німецьку) були рідними</text>
<text transform="translate(855.00,438.24) scale(0.7309,1)" font-size="8.6" font-weight="700" fill="#111" stroke="#111" stroke-width="0.35">для 20.2% тогочасного населення України. &#160;Яке загалом складало</text>
<text transform="translate(855.00,446.90) scale(0.7314,1)" font-size="8.6" font-weight="700" fill="#111" stroke="#111" stroke-width="0.35">близько 28 млн. чолл.</text>
<text transform="translate(858.00,455.56) scale(0.7256,1)" font-size="8.6" font-weight="700" fill="#111" stroke="#111" stroke-width="0.35">Найбільша питома вага української мови спостерігалась</text>
<text transform="translate(855.00,464.22) scale(0.7407,1)" font-size="8.6" font-weight="700" fill="#111" stroke="#111" stroke-width="0.35">в Полтавській (93%), Подільській (80.9%), Харківській (80.6%)</text>
<text transform="translate(855.00,472.88) scale(0.7304,1)" font-size="8.6" font-weight="700" fill="#111" stroke="#111" stroke-width="0.35">губерніях російської імперії. Найменше - в Таврійській,</text>
<text transform="translate(855.00,481.54) scale(0.7331,1)" font-size="8.6" font-weight="700" fill="#111" stroke="#111" stroke-width="0.35">де її частка склала близько 42%. В той же час на півдні України</text>
<text transform="translate(855.00,490.20) scale(0.7321,1)" font-size="8.6" font-weight="700" fill="#111" stroke="#111" stroke-width="0.35">були досить поширені татарська, німецька, грецька, єврейська</text>
<text transform="translate(855.00,498.86) scale(0.7281,1)" font-size="8.6" font-weight="700" fill="#111" stroke="#111" stroke-width="0.35">і болгарська мови - доля яких становила в Таврійській губернії</text>
<text transform="translate(855.00,507.52) scale(0.7193,1)" font-size="8.6" font-weight="700" fill="#111" stroke="#111" stroke-width="0.35">- майже третину. В Херсонській - 26%.</text>
<text transform="translate(856.00,516.18) scale(0.7551,1)" font-size="8.6" font-weight="700" fill="#111" stroke="#111" stroke-width="0.35">На Заході України попри домінування української - досить</text>
<text transform="translate(855.00,524.84) scale(0.7334,1)" font-size="8.6" font-weight="700" fill="#111" stroke="#111" stroke-width="0.35">поширеною була польська мова. Частка якої становила 6-34%</text>
<text transform="translate(855.00,533.50) scale(0.7317,1)" font-size="8.6" font-weight="700" fill="#111" stroke="#111" stroke-width="0.35">в залежності від регіону.</text>
<text transform="translate(855.00,550.82) scale(0.7383,1)" font-size="8.6" font-weight="700" fill="#111" stroke="#111" stroke-width="0.35">Примітки: Дані по Чернігівській губернії наведені включно</text>
<text transform="translate(855.00,559.48) scale(0.7311,1)" font-size="8.6" font-weight="700" fill="#111" stroke="#111" stroke-width="0.35">зі Стародубщиною, яка тоді входила до Чернігівщини.</text>
<rect x="244.8" y="592.2" width="375.6" height="22.1" fill="#fdf5cc"/>
<text transform="translate(270.00,604.60) scale(0.9570,1)" font-size="11" font-weight="700" fill="#4a4a4a" >Структура населення на українських землях за рідною мовою</text>
<text transform="translate(349.50,611.60) scale(0.9481,1)" font-size="5.5" font-weight="700" fill="#555" >За переписами 1897 року в РІ, 1910 року в Австро-Угорщині. (%)</text>
<text transform="translate(250.22,755.70) scale(1.0000,1)" font-size="5" font-weight="400" fill="#444" >0</text>
<text transform="translate(247.44,743.52) scale(1.0000,1)" font-size="5" font-weight="400" fill="#444" >10</text>
<line x1="255" x2="533" y1="741.82" y2="741.82" stroke="#dcdcdc" stroke-width="0.7" stroke-dasharray="2,2"/>
<text transform="translate(247.44,731.34) scale(1.0000,1)" font-size="5" font-weight="400" fill="#444" >20</text>
<line x1="255" x2="533" y1="729.64" y2="729.64" stroke="#dcdcdc" stroke-width="0.7" stroke-dasharray="2,2"/>
<text transform="translate(247.44,719.16) scale(1.0000,1)" font-size="5" font-weight="400" fill="#444" >30</text>
<line x1="255" x2="533" y1="717.46" y2="717.46" stroke="#dcdcdc" stroke-width="0.7" stroke-dasharray="2,2"/>
<text transform="translate(247.44,706.98) scale(1.0000,1)" font-size="5" font-weight="400" fill="#444" >40</text>
<line x1="255" x2="533" y1="705.28" y2="705.28" stroke="#dcdcdc" stroke-width="0.7" stroke-dasharray="2,2"/>
<text transform="translate(247.44,694.80) scale(1.0000,1)" font-size="5" font-weight="400" fill="#444" >50</text>
<line x1="255" x2="533" y1="693.10" y2="693.10" stroke="#dcdcdc" stroke-width="0.7" stroke-dasharray="2,2"/>
<text transform="translate(247.44,682.62) scale(1.0000,1)" font-size="5" font-weight="400" fill="#444" >60</text>
<line x1="255" x2="533" y1="680.92" y2="680.92" stroke="#dcdcdc" stroke-width="0.7" stroke-dasharray="2,2"/>
<text transform="translate(247.44,670.44) scale(1.0000,1)" font-size="5" font-weight="400" fill="#444" >70</text>
<line x1="255" x2="533" y1="668.74" y2="668.74" stroke="#dcdcdc" stroke-width="0.7" stroke-dasharray="2,2"/>
<text transform="translate(247.44,658.26) scale(1.0000,1)" font-size="5" font-weight="400" fill="#444" >80</text>
<line x1="255" x2="533" y1="656.56" y2="656.56" stroke="#dcdcdc" stroke-width="0.7" stroke-dasharray="2,2"/>
<text transform="translate(247.44,646.08) scale(1.0000,1)" font-size="5" font-weight="400" fill="#444" >90</text>
<line x1="255" x2="533" y1="644.38" y2="644.38" stroke="#dcdcdc" stroke-width="0.7" stroke-dasharray="2,2"/>
<text transform="translate(244.66,633.90) scale(1.0000,1)" font-size="5" font-weight="400" fill="#444" >100</text>
<line x1="255" x2="533" y1="632.20" y2="632.20" stroke="#dcdcdc" stroke-width="0.7" stroke-dasharray="2,2"/>
<rect x="257.0" y="632.20" width="22" height="121.80" fill="#00c485"/>
<rect x="257.0" y="635.37" width="22" height="118.63" fill="#009e68"/>
<rect x="257.0" y="640.73" width="22" height="113.27" fill="#007a50"/>
<text transform="translate(264.94,699.16) scale(1.0000,1)" font-size="5.5" font-weight="400" fill="#1a3a2a" >93</text>
<text transform="translate(264.18,639.85) scale(1.0000,1)" font-size="5.5" font-weight="400" fill="#1a3a2a" >4,4</text>
<text transform="translate(264.18,635.58) scale(1.0000,1)" font-size="5.5" font-weight="400" fill="#1a3a2a" >2,6</text>
<text transform="translate(254.24,759.90) scale(1.0000,1)" font-size="5.1" font-weight="400" fill="#333" stroke="#333" stroke-width="0.2">Полтавська</text>
<rect x="284.9" y="632.20" width="22" height="121.80" fill="#00c485"/>
<rect x="284.9" y="636.22" width="22" height="117.78" fill="#009e68"/>
<rect x="284.9" y="655.46" width="22" height="98.54" fill="#007a50"/>
<text transform="translate(290.55,706.53) scale(1.0000,1)" font-size="5.5" font-weight="400" fill="#1a3a2a" >80,9</text>
<text transform="translate(290.55,647.64) scale(1.0000,1)" font-size="5.5" font-weight="400" fill="#1a3a2a" >15,8</text>
<text transform="translate(292.08,636.01) scale(1.0000,1)" font-size="5.5" font-weight="400" fill="#1a3a2a" >3,3</text>
<text transform="translate(282.64,766.00) scale(1.0000,1)" font-size="5.1" font-weight="400" fill="#333" stroke="#333" stroke-width="0.2">Подільська</text>
<rect x="312.8" y="632.20" width="22" height="121.80" fill="#00c485"/>
<rect x="312.8" y="653.76" width="22" height="100.24" fill="#009e68"/>
<rect x="312.8" y="655.83" width="22" height="98.17" fill="#007a50"/>
<text transform="translate(318.45,706.71) scale(1.0000,1)" font-size="5.5" font-weight="400" fill="#1a3a2a" >80,6</text>
<text transform="translate(319.98,656.59) scale(1.0000,1)" font-size="5.5" font-weight="400" fill="#1a3a2a" >1,7</text>
<text transform="translate(318.45,644.78) scale(1.0000,1)" font-size="5.5" font-weight="400" fill="#1a3a2a" >17,7</text>
<text transform="translate(311.06,759.90) scale(1.0000,1)" font-size="5.1" font-weight="400" fill="#333" stroke="#333" stroke-width="0.2">Харківська</text>
<rect x="340.7" y="632.20" width="22" height="121.80" fill="#00c485"/>
<rect x="340.7" y="639.39" width="22" height="114.61" fill="#009e68"/>
<rect x="340.7" y="657.53" width="22" height="96.47" fill="#007a50"/>
<text transform="translate(346.35,707.57) scale(1.0000,1)" font-size="5.5" font-weight="400" fill="#1a3a2a" >79,2</text>
<text transform="translate(346.35,650.26) scale(1.0000,1)" font-size="5.5" font-weight="400" fill="#1a3a2a" >14,9</text>
<text transform="translate(347.88,637.59) scale(1.0000,1)" font-size="5.5" font-weight="400" fill="#1a3a2a" >5,9</text>
<text transform="translate(341.56,766.00) scale(1.0000,1)" font-size="5.1" font-weight="400" fill="#333" stroke="#333" stroke-width="0.2">Київська</text>
<rect x="368.6" y="632.20" width="22" height="121.80" fill="#00c485"/>
<rect x="368.6" y="636.46" width="22" height="117.54" fill="#009e68"/>
<rect x="368.6" y="668.62" width="22" height="85.38" fill="#007a50"/>
<text transform="translate(374.25,713.11) scale(1.0000,1)" font-size="5.5" font-weight="400" fill="#1a3a2a" >70,1</text>
<text transform="translate(374.25,654.34) scale(1.0000,1)" font-size="5.5" font-weight="400" fill="#1a3a2a" >26,4</text>
<text transform="translate(375.78,636.13) scale(1.0000,1)" font-size="5.5" font-weight="400" fill="#1a3a2a" >3,5</text>
<text transform="translate(367.02,759.90) scale(1.0000,1)" font-size="5.1" font-weight="400" fill="#333" stroke="#333" stroke-width="0.2">Волинська</text>
<rect x="396.5" y="632.20" width="22" height="121.80" fill="#00c485"/>
<rect x="396.5" y="653.27" width="22" height="100.73" fill="#009e68"/>
<rect x="396.5" y="670.08" width="22" height="83.92" fill="#007a50"/>
<text transform="translate(402.15,713.84) scale(1.0000,1)" font-size="5.5" font-weight="400" fill="#1a3a2a" >68,9</text>
<text transform="translate(402.15,663.48) scale(1.0000,1)" font-size="5.5" font-weight="400" fill="#1a3a2a" >13,8</text>
<text transform="translate(402.15,644.54) scale(1.0000,1)" font-size="5.5" font-weight="400" fill="#1a3a2a" >17,3</text>
<text transform="translate(385.72,766.00) scale(1.0000,1)" font-size="5.1" font-weight="400" fill="#333" stroke="#333" stroke-width="0.2">Катеринославська</text>
<rect x="424.4" y="632.20" width="22" height="121.80" fill="#00c485"/>
<rect x="424.4" y="658.51" width="22" height="95.49" fill="#009e68"/>
<rect x="424.4" y="673.12" width="22" height="80.88" fill="#007a50"/>
<text transform="translate(430.05,715.36) scale(1.0000,1)" font-size="5.5" font-weight="400" fill="#1a3a2a" >66,4</text>
<text transform="translate(432.34,667.62) scale(1.0000,1)" font-size="5.5" font-weight="400" fill="#1a3a2a" >12</text>
<text transform="translate(430.05,647.15) scale(1.0000,1)" font-size="5.5" font-weight="400" fill="#1a3a2a" >21,6</text>
<text transform="translate(420.87,759.90) scale(1.0000,1)" font-size="5.1" font-weight="400" fill="#333" stroke="#333" stroke-width="0.2">Чернігівська</text>
<rect x="452.3" y="632.20" width="22" height="121.80" fill="#00c485"/>
<rect x="452.3" y="633.05" width="22" height="120.95" fill="#009e68"/>
<rect x="452.3" y="682.14" width="22" height="71.86" fill="#007a50"/>
<text transform="translate(460.24,719.87) scale(1.0000,1)" font-size="5.5" font-weight="400" fill="#1a3a2a" >59</text>
<text transform="translate(457.95,659.40) scale(1.0000,1)" font-size="5.5" font-weight="400" fill="#1a3a2a" >40,3</text>
<text transform="translate(459.48,634.43) scale(1.0000,1)" font-size="5.5" font-weight="400" fill="#1a3a2a" >0,7</text>
<text transform="translate(442.06,766.00) scale(1.0000,1)" font-size="5.1" font-weight="400" fill="#333" stroke="#333" stroke-width="0.2">Галіції і Лодомерії</text>
<rect x="480.2" y="632.20" width="22" height="121.80" fill="#00c485"/>
<rect x="480.2" y="657.78" width="22" height="96.22" fill="#009e68"/>
<rect x="480.2" y="688.84" width="22" height="65.16" fill="#007a50"/>
<text transform="translate(485.85,723.22) scale(1.0000,1)" font-size="5.5" font-weight="400" fill="#1a3a2a" >53,5</text>
<text transform="translate(485.85,675.11) scale(1.0000,1)" font-size="5.5" font-weight="400" fill="#1a3a2a" >25,5</text>
<text transform="translate(488.14,646.79) scale(1.0000,1)" font-size="5.5" font-weight="400" fill="#1a3a2a" >21</text>
<text transform="translate(477.34,759.90) scale(1.0000,1)" font-size="5.1" font-weight="400" fill="#333" stroke="#333" stroke-width="0.2">Херсонська</text>
<rect x="508.1" y="632.20" width="22" height="121.80" fill="#00c485"/>
<rect x="508.1" y="666.18" width="22" height="87.82" fill="#009e68"/>
<rect x="508.1" y="702.60" width="22" height="51.40" fill="#007a50"/>
<text transform="translate(513.75,730.10) scale(1.0000,1)" font-size="5.5" font-weight="400" fill="#1a3a2a" >42,2</text>
<text transform="translate(513.75,686.19) scale(1.0000,1)" font-size="5.5" font-weight="400" fill="#1a3a2a" >29,9</text>
<text transform="translate(513.75,650.99) scale(1.0000,1)" font-size="5.5" font-weight="400" fill="#1a3a2a" >27,9</text>
<text transform="translate(506.28,766.00) scale(1.0000,1)" font-size="5.1" font-weight="400" fill="#333" stroke="#333" stroke-width="0.2">Таврійська</text>
<rect x="255" y="753.6" width="278" height="0.8" fill="#444"/>
<rect x="560" y="682.4" width="10" height="10" fill="#007a50"/>
<text transform="translate(573.50,690.50) scale(0.9164,1)" font-size="8.5" font-weight="400" fill="#333" >Українська</text>
<rect x="560" y="692.8" width="10" height="10" fill="#009e68"/>
<text transform="translate(573.50,700.90) scale(0.9164,1)" font-size="8.5" font-weight="400" fill="#333" >Інші</text>
<rect x="560" y="703" width="10" height="10" fill="#00c485"/>
<text transform="translate(573.50,711.10) scale(0.9164,1)" font-size="8.5" font-weight="400" fill="#333" >Російська</text>
<rect x="676.4" y="593" width="374" height="23" fill="#fdf5cc"/>
<text transform="translate(700.00,605.20) scale(0.9570,1)" font-size="11" font-weight="700" fill="#4a4a4a" >Структура населення на українських землях за рідною мовою</text>
<text transform="translate(774.00,612.20) scale(0.9384,1)" font-size="5.5" font-weight="700" fill="#555" >За переписами 1897 року в РІ, 1910 року в Австро-Угорщині. (чоловік)</text>
<text transform="translate(692.72,757.00) scale(1.0000,1)" font-size="5" font-weight="400" fill="#555" >0</text>
<rect x="697.5" y="734.83" width="265" height="0.6" fill="#e2e2e2"/>
<text transform="translate(673.26,736.83) scale(1.0000,1)" font-size="5" font-weight="400" fill="#555" >1 000 000</text>
<rect x="697.5" y="714.66" width="265" height="0.6" fill="#e2e2e2"/>
<text transform="translate(673.26,716.66) scale(1.0000,1)" font-size="5" font-weight="400" fill="#555" >2 000 000</text>
<rect x="697.5" y="694.49" width="265" height="0.6" fill="#e2e2e2"/>
<text transform="translate(673.26,696.49) scale(1.0000,1)" font-size="5" font-weight="400" fill="#555" >3 000 000</text>
<rect x="697.5" y="674.32" width="265" height="0.6" fill="#e2e2e2"/>
<text transform="translate(673.26,676.32) scale(1.0000,1)" font-size="5" font-weight="400" fill="#555" >4 000 000</text>
<rect x="697.5" y="654.15" width="265" height="0.6" fill="#e2e2e2"/>
<text transform="translate(673.26,656.15) scale(1.0000,1)" font-size="5" font-weight="400" fill="#555" >5 000 000</text>
<rect x="697.5" y="633.98" width="265" height="0.6" fill="#e2e2e2"/>
<text transform="translate(673.26,635.98) scale(1.0000,1)" font-size="5" font-weight="400" fill="#555" >6 000 000</text>
<rect x="700.0" y="647.39" width="21" height="107.91" fill="#00c485"/>
<rect x="700.0" y="647.39" width="21" height="107.91" fill="#009e68"/>
<rect x="700.0" y="691.76" width="21" height="63.54" fill="#007a50"/>
<text transform="translate(689.26,761.00) scale(1.0000,1)" font-size="5.1" font-weight="400" fill="#333" stroke="#333" stroke-width="0.2">Галіції і Лодомерії</text>
<rect x="726.6" y="682.49" width="21" height="72.81" fill="#00c485"/>
<rect x="726.6" y="687.93" width="21" height="67.37" fill="#009e68"/>
<rect x="726.6" y="698.22" width="21" height="57.08" fill="#007a50"/>
<text transform="translate(726.96,767.00) scale(1.0000,1)" font-size="5.1" font-weight="400" fill="#333" stroke="#333" stroke-width="0.2">Київська</text>
<rect x="753.2" y="693.58" width="21" height="61.72" fill="#00c485"/>
<rect x="753.2" y="695.40" width="21" height="59.90" fill="#009e68"/>
<rect x="753.2" y="705.88" width="21" height="49.42" fill="#007a50"/>
<text transform="translate(750.44,761.00) scale(1.0000,1)" font-size="5.1" font-weight="400" fill="#333" stroke="#333" stroke-width="0.2">Подільська</text>
<rect x="779.8" y="693.78" width="21" height="61.52" fill="#00c485"/>
<rect x="779.8" y="696.20" width="21" height="59.10" fill="#009e68"/>
<rect x="779.8" y="712.94" width="21" height="42.36" fill="#007a50"/>
<text transform="translate(777.72,767.00) scale(1.0000,1)" font-size="5.1" font-weight="400" fill="#333" stroke="#333" stroke-width="0.2">Волинська</text>
<rect x="806.4" y="698.22" width="21" height="57.08" fill="#00c485"/>
<rect x="806.4" y="700.24" width="21" height="55.06" fill="#009e68"/>
<rect x="806.4" y="702.45" width="21" height="52.85" fill="#007a50"/>
<text transform="translate(803.14,761.00) scale(1.0000,1)" font-size="5.1" font-weight="400" fill="#333" stroke="#333" stroke-width="0.2">Полтавська</text>
<rect x="833.0" y="699.23" width="21" height="56.07" fill="#00c485"/>
<rect x="833.0" y="711.73" width="21" height="43.57" fill="#009e68"/>
<rect x="833.0" y="726.05" width="21" height="29.25" fill="#007a50"/>
<text transform="translate(829.64,767.00) scale(1.0000,1)" font-size="5.1" font-weight="400" fill="#333" stroke="#333" stroke-width="0.2">Херсонська</text>
<rect x="859.6" y="704.27" width="21" height="51.03" fill="#00c485"/>
<rect x="859.6" y="713.75" width="21" height="41.55" fill="#009e68"/>
<rect x="859.6" y="714.56" width="21" height="40.74" fill="#007a50"/>
<text transform="translate(857.36,761.00) scale(1.0000,1)" font-size="5.1" font-weight="400" fill="#333" stroke="#333" stroke-width="0.2">Харківська</text>
<rect x="886.2" y="708.10" width="21" height="47.20" fill="#00c485"/>
<rect x="886.2" y="718.79" width="21" height="36.51" fill="#009e68"/>
<rect x="886.2" y="724.64" width="21" height="30.66" fill="#007a50"/>
<text transform="translate(882.17,767.00) scale(1.0000,1)" font-size="5.1" font-weight="400" fill="#333" stroke="#333" stroke-width="0.2">Чернігівська</text>
<rect x="912.8" y="711.73" width="21" height="43.57" fill="#00c485"/>
<rect x="912.8" y="720.41" width="21" height="34.89" fill="#009e68"/>
<rect x="912.8" y="726.05" width="21" height="29.25" fill="#007a50"/>
<text transform="translate(901.52,761.00) scale(1.0000,1)" font-size="5.1" font-weight="400" fill="#333" stroke="#333" stroke-width="0.2">Катеринославська</text>
<rect x="939.4" y="725.25" width="21" height="30.05" fill="#00c485"/>
<rect x="939.4" y="734.52" width="21" height="20.78" fill="#009e68"/>
<rect x="939.4" y="743.20" width="21" height="12.10" fill="#007a50"/>
<text transform="translate(937.08,767.00) scale(1.0000,1)" font-size="5.1" font-weight="400" fill="#333" stroke="#333" stroke-width="0.2">Таврійська</text>
<rect x="697.5" y="755" width="265" height="0.7" fill="#777"/>
<rect x="990" y="684" width="10" height="10" fill="#007a50"/>
<text transform="translate(1003.50,692.10) scale(0.9164,1)" font-size="8.5" font-weight="400" fill="#333" >Українська</text>
<rect x="990" y="694.5" width="10" height="10" fill="#009e68"/>
<text transform="translate(1003.50,702.60) scale(0.9164,1)" font-size="8.5" font-weight="400" fill="#333" >Інші</text>
<rect x="990" y="704.5" width="10" height="10" fill="#00c485"/>
<text transform="translate(1003.50,712.60) scale(0.9164,1)" font-size="8.5" font-weight="400" fill="#333" >Російська</text>
<rect x="1228" y="375" width="2" height="3" fill="#aaa"/>
<rect x="1228" y="395.5" width="2" height="3" fill="#aaa"/>
</svg>
</body></html>
